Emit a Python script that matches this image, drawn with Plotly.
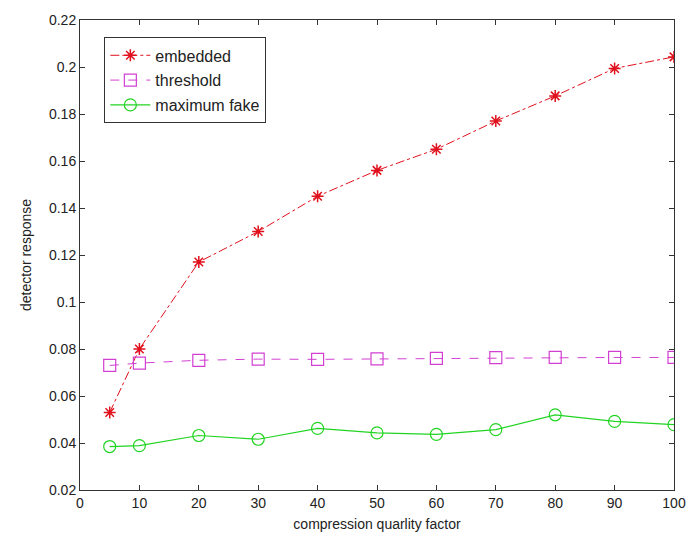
import plotly.graph_objects as go

quality = [5, 10, 20, 30, 40, 50, 60, 70, 80, 90, 100]
embedded = [0.053, 0.080, 0.117, 0.130, 0.145, 0.156, 0.165, 0.177, 0.1877, 0.1994, 0.2043]
threshold = [0.073, 0.074, 0.0752, 0.0757, 0.0756, 0.0758, 0.076, 0.0763, 0.0764, 0.0764, 0.0764]
max_fake = [0.0385, 0.0389, 0.0432, 0.0416, 0.0462, 0.0443, 0.0437, 0.0457, 0.052, 0.0492, 0.0478]

x_ticks = [0, 10, 20, 30, 40, 50, 60, 70, 80, 90, 100]
y_ticks = [0.02, 0.04, 0.06, 0.08, 0.1, 0.12, 0.14, 0.16, 0.18, 0.2, 0.22]
y_ticktext = ["0.02", "0.04", "0.06", "0.08", "0.1", "0.12", "0.14", "0.16", "0.18", "0.2", "0.22"]

font = "Liberation Sans, Arial, sans-serif"

fig = go.Figure()
fig.add_trace(go.Scatter(
    x=quality, y=embedded, name="embedded", mode="lines+markers", legendgroup="a",
    line=dict(color="#e0101c", width=1, dash="dashdot"),
    marker=dict(symbol="asterisk-open", size=10, line=dict(color="#e0101c", width=1.5)),
))
fig.add_trace(go.Scatter(
    x=quality, y=threshold, name="threshold", mode="lines+markers", legendgroup="b",
    line=dict(color="#d23fd2", width=1, dash="dash"),
    marker=dict(symbol="square-open", size=12, color="#d23fd2", line=dict(color="#d23fd2", width=1.2)),
))
fig.add_trace(go.Scatter(
    x=quality, y=max_fake, name="maximum fake", mode="lines+markers", legendgroup="c",
    line=dict(color="#22d422", width=1.2),
    marker=dict(symbol="circle-open", size=12, color="#22d422", line=dict(color="#22d422", width=1.2)),
))

axis_common = dict(
    showline=True, linecolor="#333333", linewidth=1, mirror="ticks",
    ticks="inside", ticklen=5, tickcolor="#333333", showgrid=False, zeroline=False,
    tickfont=dict(family=font, size=14, color="#222222"),
)

fig.update_layout(
    width=698, height=542,
    margin=dict(l=80, r=15, t=15, b=52),
    paper_bgcolor="white", plot_bgcolor="white",
    font=dict(family=font, size=14, color="#222222"),
    showlegend=True,
    legend=dict(
        x=0.041, y=0.963, xanchor="left", yanchor="top",
        bgcolor="white", bordercolor="#333333", borderwidth=1,
        font=dict(family=font, size=16, color="#222222"),
        tracegroupgap=1, itemwidth=40,
    ),
    xaxis=dict(
        range=[0, 100], tickmode="array", tickvals=x_ticks,
        title=dict(text="compression quarlity factor", font=dict(family=font, size=14), standoff=9),
        **axis_common,
    ),
    yaxis=dict(
        range=[0.02, 0.22], tickmode="array", tickvals=y_ticks, ticktext=y_ticktext,
        title=dict(text="detector response", font=dict(family=font, size=14), standoff=14),
        **axis_common,
    ),
)

fig.write_html("out.html")
